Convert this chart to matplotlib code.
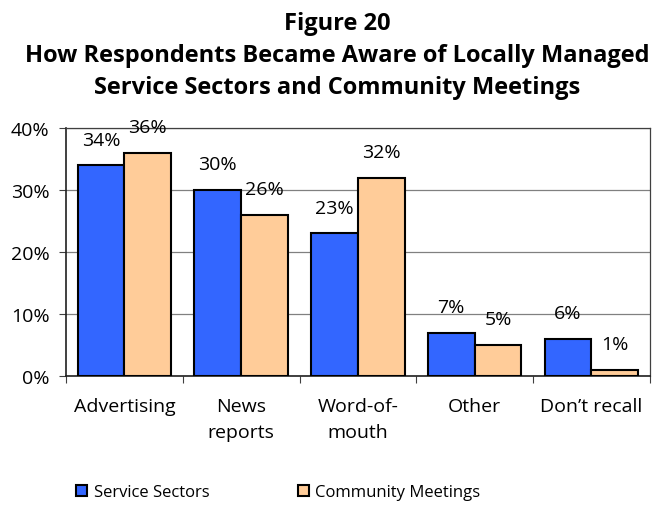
import numpy as np
import matplotlib.pyplot as plt

plt.rcParams['font.family'] = ['Open Sans', 'DejaVu Sans']

categories = ["Advertising", "News\nreports", "Word-of-\nmouth", "Other", "Don\u2019t recall"]
service_sectors = [34, 30, 23, 7, 6]
community_meetings = [36, 26, 32, 5, 1]
series_names = ["Service Sectors", "Community Meetings"]
colors = ["#3366FF", "#FFCC99"]

fig = plt.figure(figsize=(6.55, 5.06), dpi=100)
ax = fig.add_axes([0.1008, 0.255, 0.8912, 0.49])

x = np.arange(len(categories))
w = 0.4
bars = []
for i, (vals, name, col) in enumerate(zip([service_sectors, community_meetings], series_names, colors)):
    b = ax.bar(x + (i - 0.5) * w, vals, width=w, color=col, edgecolor="black",
               linewidth=1.5, label=name, zorder=3)
    bars.append(b)
    for xi, v in zip(x + (i - 0.5) * w, vals):
        ax.annotate(f"{v}%", (xi, v), xytext=(0, 12), textcoords="offset points",
                    ha="center", va="bottom", fontsize=14, zorder=4)

ax.set_xlim(-0.5, len(categories) - 0.5)
ax.set_ylim(0, 40)
ax.set_yticks([0, 10, 20, 30, 40])
ax.set_yticklabels(["0%", "10%", "20%", "30%", "40%"], fontsize=14)
ax.yaxis.grid(True, color="#808080", linewidth=0.9, zorder=0)

# boundary ticks between categories, labels centred under each group
ax.set_xticks(np.arange(len(categories) + 1) - 0.5)
ax.set_xticklabels([])
ax.set_xticks(x, minor=True)
ax.set_xticklabels(categories, minor=True, fontsize=14, linespacing=1.6, va="top")
ax.tick_params(axis="x", which="major", length=5, direction="out", color="#404040")
ax.tick_params(axis="x", which="minor", length=0, pad=15)
ax.tick_params(axis="y", length=5, direction="out", pad=7, color="#404040")

for s in ["left", "bottom"]:
    ax.spines[s].set_color("#202020")
    ax.spines[s].set_linewidth(1.2)
for s in ["top", "right"]:
    ax.spines[s].set_color("#404040")
    ax.spines[s].set_linewidth(0.9)

title_kw = dict(ha="center", va="center", fontsize=17, fontweight="bold")
fig.text(0.515, 0.952, "Figure 20", **title_kw)
fig.text(0.515, 0.889, "How Respondents Became Aware of Locally Managed", **title_kw)
fig.text(0.515, 0.827, "Service Sectors and Community Meetings", **title_kw)

fig.legend(handles=bars, labels=series_names, loc="center", bbox_to_anchor=(0.425, 0.025),
           ncol=2, frameon=False, fontsize=12, handlelength=0.65, handleheight=0.65,
           handletextpad=0.4, columnspacing=5.3)

fig.savefig("out.png", dpi=100)
